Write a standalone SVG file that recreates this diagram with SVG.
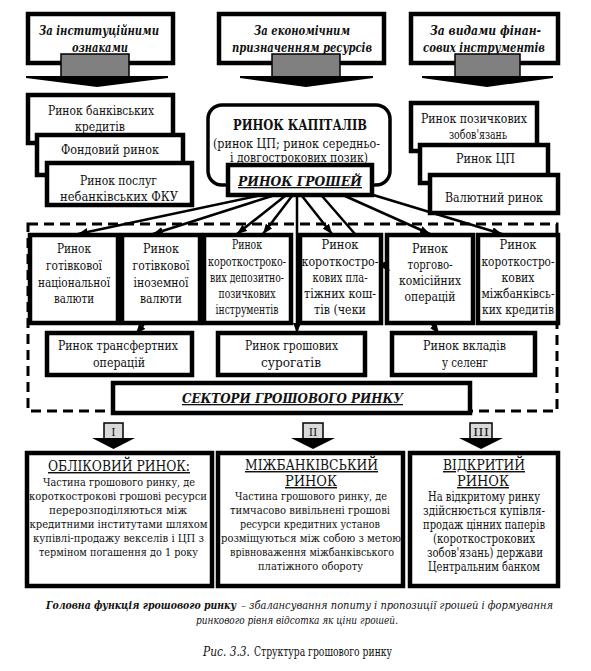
<svg xmlns="http://www.w3.org/2000/svg" width="591" height="671" viewBox="0 0 591 671">
<defs>
<marker id="ah" markerUnits="userSpaceOnUse" markerWidth="10" markerHeight="8" refX="10" refY="4" orient="auto"><path d="M0,0 L10,4 L0,8 z" fill="#000"/></marker>
</defs>
<style>
text{font-family:'DejaVu Serif','Liberation Serif',serif;fill:#111;text-anchor:middle}
.b{fill:#fff;stroke:#000;stroke-width:4.5}
.g{fill:#808080;stroke:#000;stroke-width:1.5}
.hd{font-size:13px;font-weight:bold;font-style:italic}
.t{font-size:12.5px}
.t6{font-size:12px}
.t3{font-size:13px}
.bt{font-size:14px;font-weight:bold}
.bb{font-size:11.5px}
.br{font-size:12.5px}
.ti{font-size:14.5px}
.ul{text-decoration:underline}
.st{text-anchor:start}
.c{stroke:#000;stroke-width:2.5;fill:none;marker-end:url(#ah)}
.cn{stroke:#000;stroke-width:2.5;fill:none}
</style>
<rect width="591" height="671" fill="#fff"/>

<g id="head1">
<rect class="b" x="28" y="14" width="145" height="49"/>
<text class="hd" x="99" y="35" textLength="120" lengthAdjust="spacingAndGlyphs">За інституційними</text>
<text class="hd" x="100" y="52" textLength="56" lengthAdjust="spacingAndGlyphs">ознаками</text>
<rect class="g" x="61" y="54" width="68" height="23"/>
<polygon points="26,76 168,76 168,78 97,87 26,78" fill="#000"/>
</g>
<g id="head2">
<rect class="b" x="219" y="14" width="165" height="49"/>
<text class="hd" x="302" y="35" textLength="96" lengthAdjust="spacingAndGlyphs">За економічним</text>
<text class="hd" x="302" y="52" textLength="140" lengthAdjust="spacingAndGlyphs">призначенням ресурсів</text>
<rect class="g" x="272" y="54" width="68" height="23"/>
<polygon points="240,76 373,76 373,78 306,87 240,78" fill="#000"/>
</g>
<g id="head3">
<rect class="b" x="411" y="14" width="147" height="49"/>
<text class="hd" x="485.5" y="35" textLength="111" lengthAdjust="spacingAndGlyphs">За видами фінан-</text>
<text class="hd" x="484" y="52" textLength="122" lengthAdjust="spacingAndGlyphs">сових інструментів</text>
<rect class="g" x="455" y="54" width="65" height="23"/>
<polygon points="422,76 553,76 553,78 487,87 422,78" fill="#000"/>
</g>

<g id="bank-credit"><rect class="b" x="28" y="95" width="145" height="48"/>
<text class="t" x="101" y="115" textLength="106" lengthAdjust="spacingAndGlyphs">Ринок банківських</text>
<text class="t" x="100" y="131" textLength="50" lengthAdjust="spacingAndGlyphs">кредитів</text></g>
<g id="stock"><rect class="b" x="37" y="135" width="146" height="40"/>
<text class="t" x="110" y="154" textLength="98" lengthAdjust="spacingAndGlyphs">Фондовий ринок</text></g>
<g id="nonbank"><rect class="b" x="47" y="163" width="145" height="42"/>
<text class="t" x="118.5" y="185" textLength="77" lengthAdjust="spacingAndGlyphs">Ринок послуг</text>
<text class="t" x="119" y="201" textLength="118" lengthAdjust="spacingAndGlyphs">небанківських ФКУ</text></g>

<g id="capital"><rect x="208" y="105" width="182" height="80" rx="14" fill="#fff" stroke="#000" stroke-width="3.5"/>
<text class="bt" x="300" y="130" textLength="134" lengthAdjust="spacingAndGlyphs">РИНОК КАПІТАЛІВ</text>
<text class="t" x="296.5" y="148" textLength="167" lengthAdjust="spacingAndGlyphs">(ринок ЦП; ринок середньо-</text>
<text class="t" x="299" y="162" textLength="138" lengthAdjust="spacingAndGlyphs">і довгострокових позик)</text></g>

<g id="loan"><rect class="b" x="411" y="103" width="126" height="48"/>
<text class="t" x="474" y="123" textLength="106" lengthAdjust="spacingAndGlyphs">Ринок позичкових</text>
<text class="t" x="478" y="139" textLength="58" lengthAdjust="spacingAndGlyphs">зобов'язань</text></g>
<g id="securities"><rect class="b" x="420" y="145" width="128" height="38"/>
<text class="t" x="485.5" y="163" textLength="59" lengthAdjust="spacingAndGlyphs">Ринок ЦП</text></g>
<g id="fx"><rect class="b" x="430" y="175" width="128" height="38"/>
<text class="t" x="494" y="202" textLength="98" lengthAdjust="spacingAndGlyphs">Валютний ринок</text></g>

<rect x="28" y="224" width="529" height="187" fill="none" stroke="#000" stroke-width="3" stroke-dasharray="10 6"/>

<g id="money"><rect class="b" x="228" y="165" width="144" height="30"/>
<text class="hd ul" x="300" y="186" font-size="13.5" textLength="124" lengthAdjust="spacingAndGlyphs">РИНОК ГРОШЕЙ</text></g>

<g id="s1"><rect class="b" x="30" y="235" width="88" height="88"/>
<text class="t6" x="74" y="253" textLength="34" lengthAdjust="spacingAndGlyphs">Ринок</text>
<text class="t6" x="74" y="270" textLength="56" lengthAdjust="spacingAndGlyphs">готівкової</text>
<text class="t6" x="74" y="287" textLength="72" lengthAdjust="spacingAndGlyphs">національної</text>
<text class="t6" x="74" y="303" textLength="40" lengthAdjust="spacingAndGlyphs">валюти</text></g>
<g id="s2"><rect class="b" x="122" y="235" width="78" height="88"/>
<text class="t6" x="161" y="253" textLength="36" lengthAdjust="spacingAndGlyphs">Ринок</text>
<text class="t6" x="161" y="270" textLength="57" lengthAdjust="spacingAndGlyphs">готівкової</text>
<text class="t6" x="161" y="287" textLength="55" lengthAdjust="spacingAndGlyphs">іноземної</text>
<text class="t6" x="161" y="303" textLength="42" lengthAdjust="spacingAndGlyphs">валюти</text></g>
<g id="s3"><rect class="b" x="204" y="235" width="87" height="88"/>
<text class="t6" x="247" y="249" textLength="30" lengthAdjust="spacingAndGlyphs">Ринок</text>
<text class="t6" x="247" y="266" textLength="78" lengthAdjust="spacingAndGlyphs">короткостроко-</text>
<text class="t6" x="247" y="282" textLength="74" lengthAdjust="spacingAndGlyphs">вих депозитно-</text>
<text class="t6" x="247" y="298" textLength="57" lengthAdjust="spacingAndGlyphs">позичкових</text>
<text class="t6" x="247" y="314" textLength="63" lengthAdjust="spacingAndGlyphs">інструментів</text></g>
<g id="s4"><rect class="b" x="300" y="235" width="81" height="88"/>
<text class="t6" x="340" y="249" textLength="37" lengthAdjust="spacingAndGlyphs">Ринок</text>
<text class="t6" x="340" y="266" textLength="77" lengthAdjust="spacingAndGlyphs">короткостро-</text>
<text class="t6" x="340" y="282" textLength="55" lengthAdjust="spacingAndGlyphs">кових пла-</text>
<text class="t6" x="340" y="298" textLength="72" lengthAdjust="spacingAndGlyphs">тіжних кош-</text>
<text class="t6" x="340" y="314" textLength="52" lengthAdjust="spacingAndGlyphs">тів (чеки</text></g>
<g id="s5"><rect class="b" x="387" y="235" width="86" height="88"/>
<text class="t6" x="430" y="253" textLength="36" lengthAdjust="spacingAndGlyphs">Ринок</text>
<text class="t6" x="430" y="269" textLength="45" lengthAdjust="spacingAndGlyphs">торгово-</text>
<text class="t6" x="430" y="285" textLength="62" lengthAdjust="spacingAndGlyphs">комісійних</text>
<text class="t6" x="430" y="301" textLength="51" lengthAdjust="spacingAndGlyphs">операцій</text></g>
<g id="s6"><rect class="b" x="478" y="235" width="80" height="88"/>
<text class="t6" x="518" y="249" textLength="37" lengthAdjust="spacingAndGlyphs">Ринок</text>
<text class="t6" x="518" y="266" textLength="73" lengthAdjust="spacingAndGlyphs">короткостро-</text>
<text class="t6" x="518" y="282" textLength="33" lengthAdjust="spacingAndGlyphs">кових</text>
<text class="t6" x="518" y="298" textLength="73" lengthAdjust="spacingAndGlyphs">міжбанківсь-</text>
<text class="t6" x="518" y="314" textLength="72" lengthAdjust="spacingAndGlyphs">ких кредитів</text></g>

<g id="transfer"><rect class="b" x="47" y="333" width="145" height="42"/>
<text class="t3" x="118" y="350" textLength="120" lengthAdjust="spacingAndGlyphs">Ринок трансфертних</text>
<text class="t3" x="119" y="367" textLength="52" lengthAdjust="spacingAndGlyphs">операцій</text></g>
<g id="surrogate"><rect class="b" x="218" y="333" width="147" height="42"/>
<text class="t3" x="291.5" y="350" textLength="93" lengthAdjust="spacingAndGlyphs">Ринок грошових</text>
<text class="t3" x="291" y="367" textLength="60" lengthAdjust="spacingAndGlyphs">сурогатів</text></g>
<g id="deposit"><rect class="b" x="392" y="333" width="143" height="42"/>
<text class="t3" x="464.5" y="350" textLength="83" lengthAdjust="spacingAndGlyphs">Ринок вкладів</text>
<text class="t3" x="465" y="367" textLength="46" lengthAdjust="spacingAndGlyphs">у селенг</text></g>

<g id="sectors"><rect class="b" x="113" y="383" width="357" height="30"/>
<text class="hd ul" x="292.5" y="403" textLength="221" lengthAdjust="spacingAndGlyphs">СЕКТОРИ ГРОШОВОГО РИНКУ</text></g>

<g id="connectors">
<line class="c" x1="257" y1="196" x2="78" y2="234"/>
<line class="c" x1="272" y1="196" x2="153" y2="234"/>
<line class="c" x1="285" y1="196" x2="237" y2="234"/>
<line class="c" x1="292" y1="196" x2="263" y2="234"/>
<line class="c" x1="297" y1="196" x2="297" y2="333"/>
<line class="c" x1="302" y1="196" x2="332" y2="234"/>
<line class="cn" x1="322" y1="196" x2="355" y2="234"/>
<line class="c" x1="381" y1="262" x2="389" y2="271"/>
<line class="c" x1="345" y1="196" x2="430" y2="234"/>
<line class="c" x1="370" y1="194" x2="502" y2="234"/>
<line class="c" x1="144" y1="324" x2="136" y2="334"/>
<line class="c" x1="432" y1="324" x2="439" y2="334"/>
</g>

<g id="arrowI"><rect x="104" y="423" width="19" height="16" fill="#d9d9d9" stroke="#000" stroke-width="1.5"/>
<text x="113.5" y="436" font-size="11">I</text>
<polygon points="92,438 135,438 113.5,449" fill="#000"/></g>
<g id="arrowII"><rect x="303" y="423" width="20" height="16" fill="#d9d9d9" stroke="#000" stroke-width="1.5"/>
<text x="313" y="436" font-size="11">II</text>
<polygon points="291,438 335,438 313,449" fill="#000"/></g>
<g id="arrowIII"><rect x="470" y="423" width="22" height="16" fill="#d9d9d9" stroke="#000" stroke-width="1.5"/>
<text x="481" y="436" font-size="11" textLength="16" lengthAdjust="spacingAndGlyphs">III</text>
<polygon points="459,438 503,438 481,449" fill="#000"/></g>

<g id="discount"><rect class="b" x="27" y="453" width="185" height="133"/>
<text class="ul ti" x="119" y="471" textLength="142" lengthAdjust="spacingAndGlyphs">ОБЛІКОВИЙ РИНОК:</text>
<text class="bb" x="119" y="486" textLength="152" lengthAdjust="spacingAndGlyphs">Частина грошового ринку, де</text>
<text class="bb" x="118" y="500" textLength="178" lengthAdjust="spacingAndGlyphs">короткострокові грошові ресурси</text>
<text class="bb" x="118" y="514" textLength="138" lengthAdjust="spacingAndGlyphs">перерозподіляються між</text>
<text class="bb" x="118.5" y="528" textLength="178" lengthAdjust="spacingAndGlyphs">кредитними інститутами шляхом</text>
<text class="bb" x="118.5" y="542" textLength="171" lengthAdjust="spacingAndGlyphs">купівлі-продажу векселів і ЦП з</text>
<text class="bb" x="118.5" y="556" textLength="159" lengthAdjust="spacingAndGlyphs">терміном погашення до 1 року</text></g>
<g id="interbank"><rect class="b" x="218" y="453" width="185" height="133"/>
<text class="ul ti" x="311.5" y="470" textLength="133" lengthAdjust="spacingAndGlyphs">МІЖБАНКІВСЬКИЙ</text>
<text class="ul ti" x="311" y="486" textLength="52" lengthAdjust="spacingAndGlyphs">РИНОК</text>
<text class="bb" x="311" y="500" textLength="152" lengthAdjust="spacingAndGlyphs">Частина грошового ринку, де</text>
<text class="bb" x="310" y="514" textLength="160" lengthAdjust="spacingAndGlyphs">тимчасово вивільнені грошові</text>
<text class="bb" x="310" y="528" textLength="140" lengthAdjust="spacingAndGlyphs">ресурси кредитних установ</text>
<text class="bb" x="311" y="542" textLength="180" lengthAdjust="spacingAndGlyphs">розміщуються між собою з метою</text>
<text class="bb" x="312" y="556" textLength="164" lengthAdjust="spacingAndGlyphs">врівноваження міжбанківського</text>
<text class="bb" x="310.5" y="570" textLength="105" lengthAdjust="spacingAndGlyphs">платіжного обороту</text></g>
<g id="open"><rect class="b" x="410" y="453" width="148" height="133"/>
<text class="ul ti" x="484" y="470" textLength="82" lengthAdjust="spacingAndGlyphs">ВІДКРИТИЙ</text>
<text class="ul ti" x="483" y="486" textLength="52" lengthAdjust="spacingAndGlyphs">РИНОК</text>
<text class="br" x="484" y="501" textLength="112" lengthAdjust="spacingAndGlyphs">На відкритому ринку</text>
<text class="br" x="484" y="515" textLength="122" lengthAdjust="spacingAndGlyphs">здійснюється купівля-</text>
<text class="br" x="484" y="529" textLength="122" lengthAdjust="spacingAndGlyphs">продаж цінних паперів</text>
<text class="br" x="484" y="543" textLength="102" lengthAdjust="spacingAndGlyphs">(короткострокових</text>
<text class="br" x="485" y="557" textLength="116" lengthAdjust="spacingAndGlyphs">зобов'язань) держави</text>
<text class="br" x="484" y="571" textLength="112" lengthAdjust="spacingAndGlyphs">Центральним банком</text></g>

<g id="footer">
<text class="st" x="46" y="609" font-size="11.5" font-style="italic" font-weight="bold" textLength="190" lengthAdjust="spacingAndGlyphs">Головна функція грошового ринку</text>
<text class="st" x="241" y="609" font-size="11.5" font-style="italic" textLength="312" lengthAdjust="spacingAndGlyphs">– збалансування попиту і пропозиції грошей і формування</text>
<text x="297" y="624" font-size="11.5" font-style="italic" textLength="202" lengthAdjust="spacingAndGlyphs">ринкового рівня відсотка як ціни грошей.</text>
<text class="st" x="203" y="656" font-size="12" font-style="italic" textLength="47" lengthAdjust="spacingAndGlyphs">Рис. 3.3.</text>
<text class="st" x="254" y="656" font-size="12" textLength="138" lengthAdjust="spacingAndGlyphs">Структура грошового ринку</text>
</g>
</svg>
